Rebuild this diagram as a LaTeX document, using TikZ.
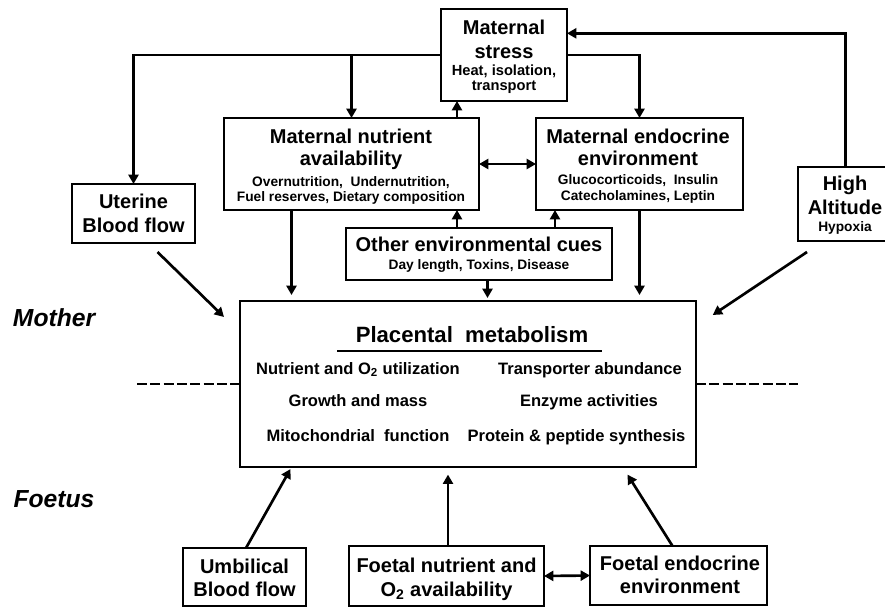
\documentclass[tikz,border=0pt]{standalone}
\usepackage{fontspec}
\setmainfont{Liberation Sans}
\usetikzlibrary{arrows.meta,calc}
\newcommand{\fmain}{\fontsize{15}{17}\selectfont\bfseries}
\newcommand{\fsub}{\fontsize{10.3}{12}\selectfont\bfseries}
\newcommand{\fsubb}{\fontsize{11}{13}\selectfont\bfseries}
\newcommand{\fbody}{\fontsize{12.4}{14}\selectfont\bfseries}
\newcommand{\ftitle}{\fontsize{16.6}{19}\selectfont\bfseries}
\newcommand{\fside}{\fontsize{18.5}{21}\selectfont\bfseries\itshape}
\newcommand{\mybox}[5]{\node[box, minimum width={(#4-#2)*0.75pt}, minimum height={(#5-#3)*0.75pt}] (#1) at ({(#2+#4)/2},{(#3+#5)/2}) {};}
\tikzset{
  box/.style={draw, rectangle, line width=1.3pt, inner sep=0pt, outer sep=0pt},
  arr/.style={line width=2pt, -{Triangle[length=7pt,width=7.5pt]}},
  dbl/.style={line width=2pt, {Triangle[length=7pt,width=7.5pt]}-{Triangle[length=7pt,width=7.5pt]}},
  dashline/.style={line width=2.2pt, dash pattern=on 7.5pt off 2.5pt},
  tm/.style={anchor=base, inner sep=0pt, font=\fmain},
  ts/.style={anchor=base, inner sep=0pt, font=\fsub},
  tsb/.style={anchor=base, inner sep=0pt, font=\fsubb},
  tb/.style={anchor=base, inner sep=0pt, font=\fbody},
  tt/.style={anchor=base, inner sep=0pt, font=\ftitle},
  tside/.style={anchor=base west, inner sep=0pt, font=\fside}
}
\begin{document}
\begin{tikzpicture}[x=0.75pt,y=-0.75pt]
\useasboundingbox (0,0) rectangle (885,608);
% boxes
\mybox{ms}{441}{9}{567}{101}
\mybox{mn}{224}{118}{479}{210}
\mybox{me}{536}{118}{743}{210}
\mybox{ub}{72}{184}{195}{243}
\mybox{ha}{798}{167}{888}{241}
\mybox{oe}{346}{228}{612}{280}
\mybox{pm}{240}{301}{696}{467}
\mybox{ubc}{183}{548}{306}{606}
\mybox{fn}{349}{546}{544}{606}
\mybox{fe}{590}{546}{767}{605}
% texts
\node[tm] (ms1) at (504,34) {Maternal};
\node[tm] (ms2) at (504,58) {stress};
\node[tsb] (ms3) at (504,75) {Heat, isolation,};
\node[tsb] (ms4) at (504,90.5) {transport};
\node[tm] (mn1) at (351,143.3) {Maternal nutrient};
\node[tm] (mn2) at (351,165.7) {availability};
\node[ts] (mn3) at (351,186) {Overnutrition,\ \ Undernutrition,};
\node[ts] (mn4) at (351,201) {Fuel reserves, Dietary composition};
\node[tm] (me1) at (638,143.3) {Maternal endocrine};
\node[tm] (me2) at (638,165.7) {environment};
\node[ts] (me3) at (638,184.5) {Glucocorticoids,\ \ Insulin};
\node[ts] (me4) at (638,200) {Catecholamines, Leptin};
\node[tm] (ub1) at (133.5,208.3) {Uterine};
\node[tm] (ub2) at (133.5,232.7) {Blood flow};
\node[tm] (ha1) at (845,190.7) {High};
\node[tm] (ha2) at (845,214) {Altitude};
\node[ts] (ha3) at (845,231.7) {Hypoxia};
\node[tm] (oe1) at (479,251.7) {Other environmental cues};
\node[ts] (oe2) at (479,269.3) {Day length, Toxins, Disease};
\node[tt] (pt) at (472,342.7) {Placental\ \ metabolism};
\draw[line width=0.8pt] (337,351) -- (602,351);
\node[tb] (pl1) at (358,374) {Nutrient and O\textsubscript{2} utilization};
\node[tb] (pl2) at (358,406) {Growth and mass};
\node[tb] (pl3) at (358,441) {Mitochondrial\ \ function};
\node[tb] (pr1) at (590,374) {Transporter abundance};
\node[tb] (pr2) at (589,406) {Enzyme activities};
\node[tb] (pr3) at (576.5,441) {Protein \& peptide synthesis};
\node[tm] (uc1) at (244.5,573.3) {Umbilical};
\node[tm] (uc2) at (244.5,596.7) {Blood flow};
\node[tm] (fn1) at (446.5,572.7) {Foetal nutrient and};
\node[tm] (fn2) at (446.5,596.7) {O\textsubscript{2} availability};
\node[tm] (fe1) at (680,570) {Foetal endocrine};
\node[tm] (fe2) at (680,593.3) {environment};
\node[tside] (mother) at (12.7,326) {Mother};
\node[tside] (foetus) at (13.3,507) {Foetus};
% dashed boundary
\coordinate (dl) at (137,384);
\coordinate (dr) at (798,384);
\draw[dashline] (dl) -- (pm.west);
\draw[dashline] (pm.east) -- (dr);
% top connectors
\draw[arr] (ms.west) -| (ub.north);
\draw[arr] (ms.west -| mn.north) -- (mn.north);
\draw[arr] (ms.east) -| (me.north);
\draw[arr] ($(ha.north)+(2.7,0)$) |- ($(ms.east)+(0,-21.7)$);
\draw[arr] ($(mn.north east)+(-22,0)$) -- ($(ms.south west)+(16,0)$);
\draw[dbl] (mn.east) -- (me.west);
\draw[arr] ($(oe.north west)+(111,0)$) -- ($(mn.south east)+(-22,0)$);
\draw[arr] ($(oe.north west)+(209,0)$) -- ($(me.south west)+(19,0)$);
\draw[arr] ($(oe.south)+(8.5,0)$) -- ($(pm.north)+(19.5,-3)$);
\draw[arr] ($(mn.south west)+(67.5,0)$) -- ($(pm.north west)+(51.5,-6)$);
\draw[arr] (me.south) -- ($(pm.north east)+(-56.5,-6)$);
\draw[arr] ($(ub.south)+(24,9)$) -- ($(pm.north west)+(-16,16)$);
\draw[arr] ($(ha.south west)+(9,11)$) -- ($(pm.north east)+(16.7,14)$);
% bottom connectors
\draw[arr] ($(ubc.north)+(1.5,0)$) -- ($(pm.south west)+(50.5,2)$);
\draw[arr] ($(fn.north)+(1.5,0)$) -- ($(pm.south)+(-20,7.6)$);
\draw[arr] ($(fe.north)+(-6,0)$) -- ($(pm.south east)+(-68.5,7.6)$);
\draw[dbl] (fn.east) -- (fe.west);
\end{tikzpicture}
\end{document}
